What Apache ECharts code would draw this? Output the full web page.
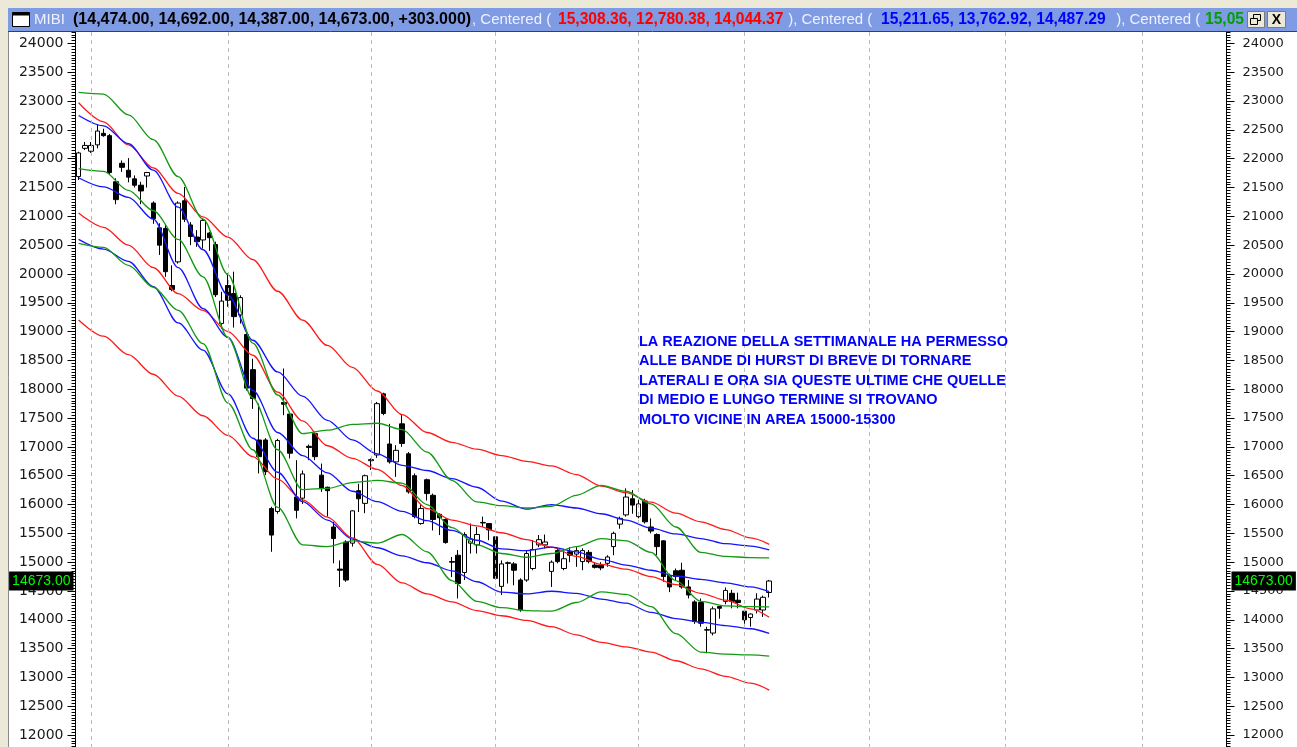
<!DOCTYPE html>
<html><head><meta charset="utf-8">
<script src="https://cdn.jsdelivr.net/npm/echarts@6/dist/echarts.min.js"></script>
<style>html,body{margin:0;padding:0;background:#fff;}#c{width:1297px;height:747px;}</style>
</head><body><div id="c"></div>
<script>
// ---------- DATA ----------
// candles: [open, close, low, high]
const candles = [
[21690,22100,21630,22120],[22180,22230,22150,22290],[22130,22230,22100,22290],[22240,22480,22180,22600],
[22440,22400,22380,22520],[22400,21760,21730,22430],[21600,21290,21210,21660],[21920,21850,21770,21970],
[21800,21680,21590,22010],[21650,21540,21500,21710],[21540,21440,21210,21600],[21700,21760,21500,21770],
[21230,20960,20870,21260],[20800,20500,20330,20880],[20790,20040,19950,20850],[19800,19730,19700,20150],
[20210,21230,20180,21260],[21270,20950,20900,21510],[20850,20650,20500,20900],[20640,20560,20470,20760],
[20590,20930,20440,20960],[20710,20630,20400,20730],[20510,19640,19600,20560],[19140,19530,19050,19690],
[19800,19545,19430,20010],[19660,19260,19070,20040],[19290,19590,19140,19630],[18950,18020,17980,18980],
[18340,17840,17660,18530],[17120,16830,16540,17750],[17120,16570,16510,17150],[15930,15470,15180,15960],
[15880,17110,15840,17140],[17770,17740,17550,18360],[17570,16890,16800,17610],[16130,15900,15760,16770],
[16110,16530,16010,16590],[17010,16990,16770,17040],[17230,16830,16770,17240],[16510,16280,16220,16710],
[16300,16240,15790,16310],[15610,15410,14980,15700],[14880,14860,14570,15030],[15350,14690,14660,15380],
[15330,15890,15270,15900],[16240,16100,15870,16360],[16020,16500,15850,16520],[16760,16780,16600,16800],
[16860,17750,16810,17780],[17920,17580,17550,17940],[17050,16740,16710,17400],[16740,16940,16480,17030],
[17400,17060,17000,17550],[16880,16220,16190,16910],[16500,15790,15760,16540],[15670,15930,15650,16010],
[16430,16190,16070,16450],[16160,15740,15550,16190],[15830,15770,15470,15850],[15740,15340,15320,15760],
[15010,15000,14740,15090],[15120,14630,14370,15210],[14820,15480,14690,15520],[15330,15400,15150,15670],
[15300,15480,15150,15610],[15680,15690,15610,15790],[15670,15560,15380,15680],[15440,14720,14690,15450],
[14580,14970,14430,15030],[14990,14980,14630,15010],[14970,14860,14600,15000],[14690,14170,14140,14720],
[14690,15150,14660,15210],[14890,15220,14860,15380],[15300,15390,15260,15470],[15300,15350,15240,15480],
[14840,15000,14570,15030],[15200,15010,14980,15240],[14890,15060,14860,15230],[15180,15120,15000,15260],
[15140,15200,14920,15260],[15010,15200,14860,15240],[15170,15010,14980,15210],[14950,14910,14890,15000],
[14950,14900,14860,15000],[14980,15090,14920,15120],[15270,15500,15120,15530],[15660,15760,15580,15790],
[15820,16130,15790,16280],[16100,15990,15840,16250],[15790,16010,15760,16130],[16060,15700,15670,16100],
[15610,15540,15500,15760],[15480,15270,15120,15500],[15370,14750,14660,15380],[14770,14570,14480,14800],
[14850,14750,14690,14890],[14860,14570,14540,14990],[14570,14430,14370,14690],[14310,13970,13930,14340],
[14300,13940,13880,14370],[13820,13830,13420,13880],[13770,14190,13730,14230],[14230,14200,14020,14240],
[14320,14510,14270,14560],[14460,14320,14200,14520],[14340,14300,14200,14470],[14150,14000,13930,14180],
[14040,14100,13880,14110],[14170,14360,14110,14460],[14170,14390,14050,14420],[14474,14673,14387,14692]
];

// bar indices at which the band values below were read
const sampleIdx = [0,4,8,12,16,20,24,28,32,36,40,44,48,52,56,60,64,68,72,76,80,84,88,92,96,100,104,108,111];

const redUpper   = [22970,22640,22240,21840,21400,20990,20640,20250,19700,19200,18760,18380,17970,17560,17250,17080,16960,16850,16750,16670,16520,16320,16205,16040,15850,15700,15565,15420,15308];
const redMid     = [21060,20810,20500,20110,19660,19370,19000,18590,17950,17450,17020,16800,16610,16330,15930,15730,15630,15510,15390,15260,15100,14960,14880,14750,14610,14460,14340,14190,14044];
const redLower   = [19200,18920,18600,18260,17880,17540,17200,16830,16440,16080,15780,15420,14960,14640,14450,14310,14160,14070,13990,13880,13740,13610,13530,13440,13290,13150,13020,12900,12780];
const blueUpper  = [22750,22570,22260,21800,21160,20420,19630,18850,18300,17880,17460,17120,16880,16680,16590,16450,16300,16060,15920,16000,15940,15840,15730,15590,15490,15410,15320,15280,15212];
const blueMid    = [21670,21510,21330,20950,20110,19400,18900,17980,17250,16850,16550,16230,16050,15880,15720,15550,15380,15230,15200,15260,15180,15050,14950,14860,14760,14700,14640,14570,14487];
const blueLower  = [20600,20430,20220,19780,19150,18680,17920,17150,16560,16050,15730,15400,15250,15110,14990,14850,14660,14480,14450,14495,14460,14360,14290,14130,14020,13960,13900,13845,13763];
const greenUpper = [23150,23120,22760,22330,21690,20950,19990,18800,17900,17230,17290,17390,17410,17300,16910,16420,16045,15980,15940,15970,16160,16334,16230,16010,15610,15170,15100,15080,15074];
const greenMid   = [21827,21780,21450,21100,20600,19950,18900,17850,16950,16260,16280,16380,16420,16370,16000,15600,15300,15150,15085,15150,15270,15409,15370,15170,14680,14320,14240,14228,14224];
const greenLower = [20530,20460,20150,19770,19370,18790,17760,16950,15950,15300,15270,15370,15330,15480,15180,14680,14320,14210,14160,14150,14300,14485,14440,14230,13760,13440,13405,13390,13369];

const slotCount = 185;                 // bar slots across the plot (incl. empty future)
const monthLines = [2,24,47,67,90,107,127,149,171];   // bar slots of the dashed verticals
const yMin = 11500, yMax = 24500, yStep = 500;
const lastClose = 14673;

const titleParts = [
  {t:'MIBI', x:34, c:'#eef2ff', w:'normal', s:15},
  {t:'(14,474.00, 14,692.00, 14,387.00, 14,673.00, +303.000)', x:73, c:'#000000', w:'bold', s:16},
  {t:', Centered (', x:472, c:'#eef2ff', w:'normal', s:15},
  {t:'15,308.36, 12,780.38, 14,044.37', x:558, c:'#ff0000', w:'bold', s:15.6},
  {t:' ), Centered (', x:784, c:'#eef2ff', w:'normal', s:15},
  {t:'15,211.65, 13,762.92, 14,487.29', x:881, c:'#0000ff', w:'bold', s:15.6},
  {t:' ), Centered (', x:1112, c:'#eef2ff', w:'normal', s:15},
  {t:'15,05', x:1205, c:'#00a000', w:'bold', s:15.6}
];
const noteLines = [
  'LA REAZIONE DELLA SETTIMANALE HA PERMESSO',
  'ALLE BANDE DI HURST DI BREVE DI TORNARE',
  'LATERALI E ORA SIA QUESTE ULTIME CHE QUELLE',
  'DI MEDIO E LUNGO TERMINE SI TROVANO',
  'MOLTO VICINE IN AREA 15000-15300'
];

// ---------- CHART ----------
const cats = Array.from({length: slotCount}, (_, i) => String(i));
const RED = '#ff1a1a', BLUE = '#1414ff', GREEN = '#139a13';
const bands = [
  [redUpper, RED], [redMid, RED], [redLower, RED],
  [blueUpper, BLUE], [blueMid, BLUE], [blueLower, BLUE],
  [greenUpper, GREEN], [greenMid, GREEN], [greenLower, GREEN]
];

const chart = echarts.init(document.getElementById('c'));

const yAxisCommon = {
  type: 'value', min: yMin, max: yMax, interval: yStep,
  axisLine: {show: true, lineStyle: {color: '#000', width: 1}},
  axisTick: {show: true, length: 8, lineStyle: {color: '#000'}},
  minorTick: {show: true, splitNumber: 10, length: 4, lineStyle: {color: '#000'}},
  splitLine: {show: false}
};

const series = [];
series.push({
  type: 'line', z: 1, silent: true, symbol: 'none',
  data: sampleIdx.map((ix, k) => [String(ix), redMid[k]]),
  lineStyle: {opacity: 0},
  markLine: {
    symbol: 'none', silent: true, animation: false,
    label: {show: false},
    lineStyle: {color: '#b9b9b9', type: [4, 4], width: 1},
    data: monthLines.map(d => ({xAxis: String(d)}))
  }
});
series.push({
  type: 'candlestick', z: 3, barWidth: 5,
  data: candles,
  itemStyle: {color: '#ffffff', color0: '#000000', borderColor: '#000000', borderColor0: '#000000', borderWidth: 1},
  markLine: {
    symbol: 'none', silent: true, animation: false,
    lineStyle: {color: 'transparent', width: 0},
    label: {
      formatter: () => lastClose.toFixed(2),
      color: '#00ff00', backgroundColor: '#000000',
      fontFamily: 'Liberation Sans', fontSize: 14,
      padding: [3, 3, 2, 3]
    },
    data: [
      {yAxis: lastClose, label: {position: 'start', distance: 2}},
      {yAxis: lastClose, label: {position: 'end', distance: 5}}
    ]
  }
});
bands.forEach(([vals, col]) => {
  series.push({
    type: 'line', z: 4, silent: true, symbol: 'none',
    smooth: 0.3, smoothMonotone: 'x',
    data: sampleIdx.map((ix, k) => [String(ix), vals[k]]),
    lineStyle: {color: col, width: 1.3}
  });
});

const graphics = [];
graphics.push({type:'rect', z:100, shape:{x:0,y:0,width:1297,height:8}, style:{fill:'#ece9d8'}});
graphics.push({type:'rect', z:100, shape:{x:0,y:0,width:8,height:747}, style:{fill:'#ece9d8'}});
graphics.push({type:'line', z:100, shape:{x1:8.5,y1:8,x2:8.5,y2:747}, style:{stroke:'#8a8a8a', lineWidth:1}});
graphics.push({type:'rect', z:100, shape:{x:8,y:8,width:1289,height:23}, style:{fill:'#7f9be3'}});
graphics.push({type:'line', z:101, shape:{x1:8,y1:31.5,x2:1297,y2:31.5}, style:{stroke:'#404040', lineWidth:1}});
graphics.push({type:'rect', z:101, shape:{x:12.5,y:12.5,width:17,height:14}, style:{fill:'#ffffff', stroke:'#000', lineWidth:1}});
graphics.push({type:'rect', z:102, shape:{x:12.5,y:12.5,width:17,height:3}, style:{fill:'#000'}});
titleParts.forEach(p => {
  graphics.push({type:'text', z:103, x:p.x, y:20,
    style:{text:p.t, fill:p.c, font: p.w + ' ' + p.s + 'px "Liberation Sans", Arial, sans-serif', textVerticalAlign:'middle', textAlign:'left'}});
});
graphics.push({type:'rect', z:104, shape:{x:1247.5,y:11.5,width:17,height:16}, style:{fill:'#ece9d8', stroke:'#7a7a7a', lineWidth:1}});
graphics.push({type:'rect', z:105, shape:{x:1253.5,y:14.5,width:7,height:6}, style:{fill:'none', stroke:'#000', lineWidth:1}});
graphics.push({type:'rect', z:105, shape:{x:1250.5,y:18.5,width:7,height:6}, style:{fill:'#ece9d8', stroke:'#000', lineWidth:1}});
graphics.push({type:'rect', z:104, shape:{x:1267.5,y:11.5,width:18,height:16}, style:{fill:'#ece9d8', stroke:'#7a7a7a', lineWidth:1}});
graphics.push({type:'text', z:105, x:1276.5, y:20, style:{text:'X', fill:'#000', font:'bold 14px "Liberation Sans", Arial', textAlign:'center', textVerticalAlign:'middle'}});
graphics.push({type:'text', z:50, x:639, y:332,
  style:{text: noteLines.join('\n'), fill:'#0000ff', font:'bold 14.5px "Liberation Sans", Arial, sans-serif', lineHeight:19.5, textVerticalAlign:'top'}});

chart.setOption({
  animation: false,
  backgroundColor: '#ffffff',
  grid: {left: 75.5, right: 70.5, top: 14.6, bottom: -16.9, containLabel: false, outerBoundsMode: 'none'},
  xAxis: {
    type: 'category', data: cats, boundaryGap: true,
    axisLine: {show: false}, axisTick: {show: false}, axisLabel: {show: false}, splitLine: {show: false}
  },
  yAxis: [
    Object.assign({}, yAxisCommon, {position: 'left',
      axisLabel: {fontFamily: 'DejaVu Sans', fontSize: 14, color: '#1a1a1a', margin: 12, formatter: v => String(v)}}),
    Object.assign({}, yAxisCommon, {position: 'right',
      axisLabel: {fontFamily: 'DejaVu Sans', fontSize: 13, color: '#1a1a1a', margin: 16, formatter: v => String(v)}})
  ],
  series: series,
  graphic: graphics
});
</script>
</body></html>
